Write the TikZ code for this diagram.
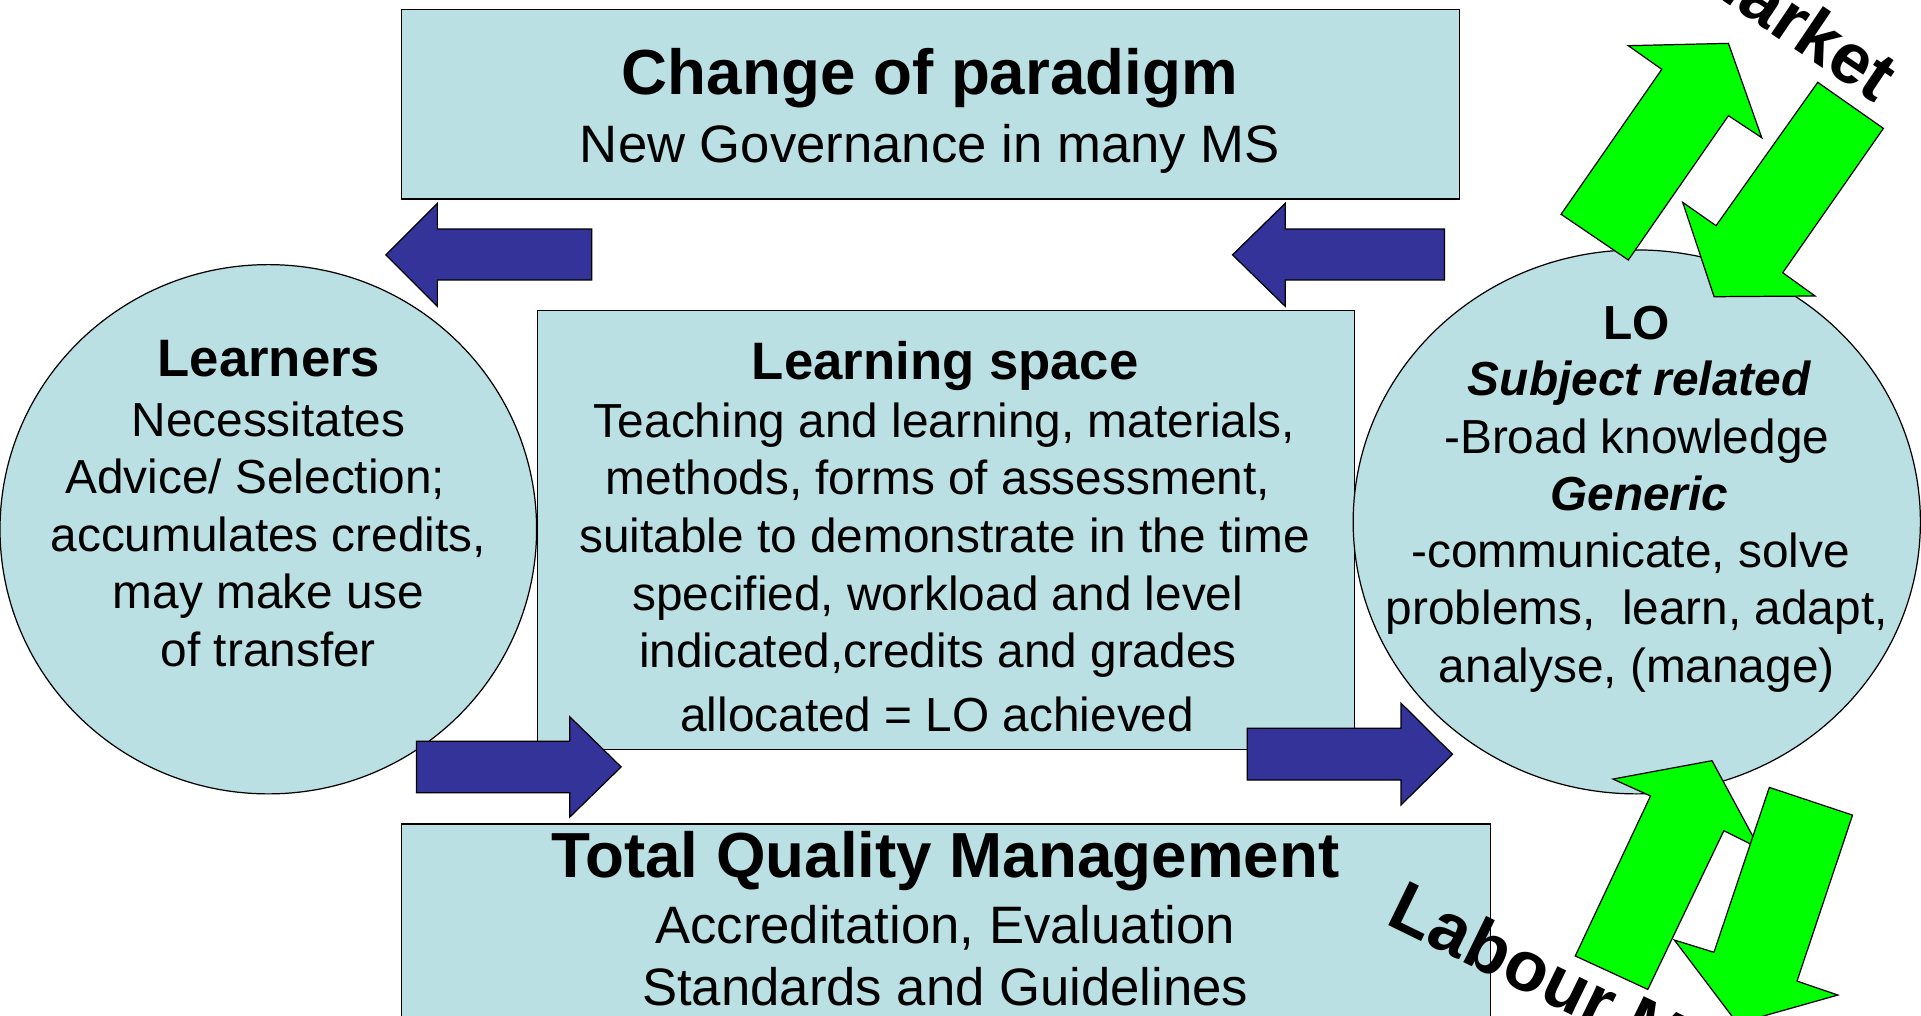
\documentclass[tikz,border=0pt]{standalone}
\usepackage{fontspec}
\setmainfont{Liberation Sans}
\usetikzlibrary{shapes.geometric}
\definecolor{panel}{HTML}{BBE0E3}
\definecolor{navy}{HTML}{333399}
\definecolor{lime}{HTML}{00FF00}
\begin{document}
\begin{tikzpicture}[x=1pt,y=-1pt,
  panelbox/.style={draw=black, line width=1pt, fill=panel, inner sep=0pt},
  bluearrow/.style={draw=black, line width=1pt, fill=navy, line join=miter},
  greenarrow/.style={draw=black, line width=1pt, fill=lime, line join=miter},
  ttl/.style={font=\fontsize{52}{62}\selectfont\bfseries, inner sep=0pt, anchor=base},
  subt/.style={font=\fontsize{43}{52}\selectfont, inner sep=0pt, anchor=base},
  hd/.style={font=\fontsize{43}{52}\selectfont\bfseries, inner sep=0pt, anchor=base},
  bodytxt/.style={font=\fontsize{39}{47}\selectfont, inner sep=0pt, anchor=base},
  bodybold/.style={font=\fontsize{39}{47}\selectfont\bfseries, inner sep=0pt, anchor=base},
  bodybi/.style={font=\fontsize{39}{47}\selectfont\bfseries\itshape, inner sep=0pt, anchor=base},
  wordart/.style={font=\fontsize{58}{64}\selectfont\bfseries, inner sep=0pt}
]
\useasboundingbox (0,0) rectangle (1568,828.5);
\clip (0,0) rectangle (1568,828.5);

% panels
\node[panelbox, minimum width=864pt, minimum height=155pt, anchor=north west] (paradigm) at (327,7) {};
\node[panelbox, minimum width=667pt, minimum height=358pt, anchor=north west] (space) at (438,253) {};
\node[panelbox, minimum width=889pt, minimum height=220pt, anchor=north west] (tqm) at (327,672) {};
\node[panelbox, ellipse, minimum width=438pt, minimum height=432pt] (learners) at (219,432) {};
\node[panelbox, ellipse, minimum width=463pt, minimum height=444pt] (lo) at (1336,426) {};

% blue block arrows
\draw[bluearrow] (483,187) -- (357,187) -- (357,166) -- (315,208) -- (357,250) -- (357,228.5) -- (483,228.5) -- cycle;
\draw[bluearrow] (1179,187) -- (1049,187) -- (1049,166) -- (1006,208) -- (1049,250) -- (1049,228.5) -- (1179,228.5) -- cycle;
\draw[bluearrow] (340,605) -- (465,605) -- (465,585) -- (507,626) -- (465,667) -- (465,647) -- (340,647) -- cycle;
\draw[bluearrow] (1018,594.5) -- (1143.6,594.5) -- (1143.6,574) -- (1185.6,615.7) -- (1143.6,657) -- (1143.6,636.7) -- (1018,636.7) -- cycle;

% green block arrows
\draw[greenarrow] (1274.2,174.9) -- (1356.4,56.6) -- (1329.1,37.3) -- (1410.8,35.4) -- (1438,112.4) -- (1410.8,94.4) -- (1329.1,212.2) -- cycle;
\draw[greenarrow] (1483.7,67.2) -- (1537.3,104.8) -- (1455.1,222.6) -- (1481.5,241.6) -- (1399.1,242.2) -- (1373.5,165.2) -- (1400.7,184.2) -- cycle;
\draw[greenarrow] (1285.8,780.3) -- (1347.2,649.7) -- (1316.6,635.9) -- (1397.4,620.9) -- (1436.1,692.5) -- (1407.1,678) -- (1345,807.6) -- cycle;
\draw[greenarrow] (1444.2,642.7) -- (1512.1,665.3) -- (1466.8,800.8) -- (1500.1,812.2) -- (1418.1,835.3) -- (1366.7,767.3) -- (1399,777.3) -- cycle;

% top panel text
\node[ttl] (p1) at (759,77) {Change of paradigm};
\node[subt] (p2) at (759,133) {New Governance in many MS};

% learning space text
\node[hd] (s0) at (771.5,310) {Learning space};
\node[bodytxt] (s1) at (771,357) {Teaching and learning, materials,};
\node[bodytxt] (s2) at (765.5,404) {methods, forms of assessment,};
\node[bodytxt] (s3) at (771,451) {suitable to demonstrate in the time};
\node[bodytxt] (s4) at (765.5,498) {specified, workload and level};
\node[bodytxt] (s5) at (765.5,545) {indicated,credits and grades};
\node[bodytxt] (s6) at (765,597) {allocated = LO achieved};

% learners text
\node[hd] (l0) at (219.5,307) {Learners};
\node[bodytxt] (l1) at (219,356) {Necessitates};
\node[bodytxt] (l2) at (208.5,403) {Advice/ Selection;};
\node[bodytxt] (l3) at (219,450) {accumulates credits,};
\node[bodytxt] (l4) at (219,497) {may make use};
\node[bodytxt] (l5) at (219,544) {of transfer};

% LO text
\node[bodybold] (o0) at (1336,277) {LO};
\node[bodybi] (o1) at (1338,323) {Subject related};
\node[bodytxt] (o2) at (1336,370) {-Broad knowledge};
\node[bodybi] (o3) at (1338,417) {Generic};
\node[bodytxt] (o4) at (1331,463) {-communicate, solve};
\node[bodytxt] (o5) at (1336,510) {problems,\ \ learn, adapt,};
\node[bodytxt] (o6) at (1336,557) {analyse, (manage)};

% TQM text
\node[ttl] (q0) at (771.5,716) {Total Quality Management};
\node[subt] (q1) at (771.5,770) {Accreditation, Evaluation};
\node[subt] (q2) at (771.5,821) {Standards and Guidelines};

% word art
\node[wordart, rotate=-34, anchor=base east] (mkttop) at (1531,85) {Labour Market};
\node[wordart, rotate=-26, anchor=base west] (mktbot) at (1130,754) {Labour Market};
\end{tikzpicture}
\end{document}
